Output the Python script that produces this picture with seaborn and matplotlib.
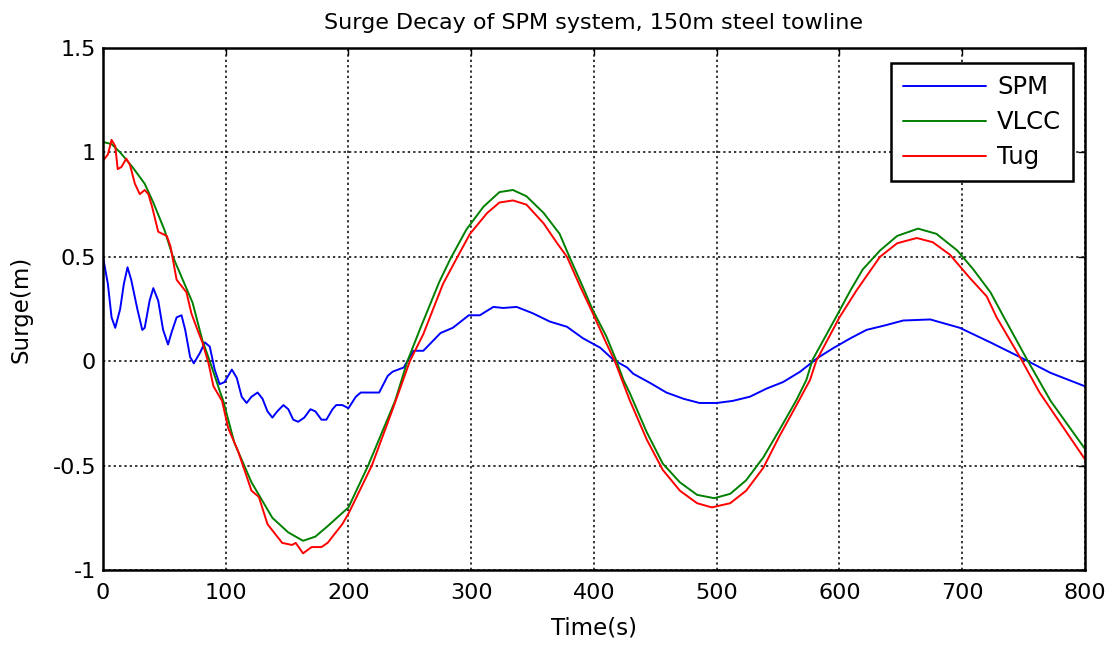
import pandas as pd
import numpy as np
import seaborn as sns
import matplotlib.pyplot as plt

# values (time in s, surge in m)
spm_t = [0, 4, 7, 10, 14, 17, 20, 23, 28, 32, 34, 38, 41, 45, 49, 53, 56, 60, 64, 67,
         71, 74, 79, 83, 87, 91, 95, 99, 105, 109, 113, 117, 121, 126, 130, 134, 138, 142,
         147, 151, 155, 159, 164, 169, 173, 178, 182, 187, 190, 195, 200, 206, 210, 225,
         232, 236, 245, 253, 261, 275, 285, 298, 307, 318, 326, 337, 350, 364, 378, 391,
         405, 416, 427, 432, 446, 459, 473, 486, 500, 513, 527, 541, 554, 568, 582, 595,
         609, 622, 636, 652, 674, 698, 723, 747, 772, 800]
spm_y = [0.50, 0.37, 0.21, 0.16, 0.25, 0.37, 0.45, 0.39, 0.25, 0.15, 0.16, 0.29, 0.35, 0.29,
         0.15, 0.08, 0.14, 0.21, 0.22, 0.15, 0.02, -0.01, 0.04, 0.09, 0.07, -0.04, -0.11,
         -0.10, -0.04, -0.08, -0.17, -0.20, -0.17, -0.15, -0.18, -0.24, -0.27, -0.24, -0.21,
         -0.23, -0.28, -0.29, -0.27, -0.23, -0.24, -0.28, -0.28, -0.23, -0.21, -0.21, -0.225,
         -0.17, -0.15, -0.15, -0.07, -0.05, -0.03, 0.05, 0.05, 0.135, 0.16, 0.22, 0.22, 0.26,
         0.255, 0.26, 0.23, 0.19, 0.165, 0.11, 0.065, 0.006, -0.03, -0.06, -0.105, -0.15,
         -0.18, -0.20, -0.20, -0.19, -0.17, -0.13, -0.10, -0.05, 0.015, 0.063, 0.11, 0.15,
         0.17, 0.195, 0.20, 0.16, 0.09, 0.02, -0.056, -0.12]

vlcc_t = [0, 7, 14, 24, 34, 41, 50, 57, 65, 73, 81, 87, 95, 98, 107, 121, 138, 151, 163,
          173, 183, 200, 216, 238, 248, 258, 274, 283, 296, 310, 323, 334, 345, 359, 372,
          380, 391, 399, 410, 418, 424, 429, 443, 456, 470, 484, 498, 511, 524, 538, 551,
          565, 573, 578, 598, 609, 619, 633, 647, 664, 679, 696, 709, 723, 734, 753, 772, 800]
vlcc_y = [1.05, 1.04, 1.00, 0.93, 0.85, 0.76, 0.63, 0.50, 0.39, 0.28, 0.10, 0.00, -0.14,
          -0.19, -0.39, -0.58, -0.75, -0.82, -0.86, -0.84, -0.79, -0.70, -0.50, -0.19, 0.00,
          0.15, 0.38, 0.49, 0.63, 0.74, 0.81, 0.82, 0.79, 0.71, 0.61, 0.50, 0.355, 0.245,
          0.12, 0.006, -0.09, -0.15, -0.34, -0.49, -0.58, -0.64, -0.656, -0.635, -0.57,
          -0.46, -0.33, -0.185, -0.09, 0.006, 0.22, 0.34, 0.44, 0.53, 0.60, 0.635, 0.61,
          0.53, 0.44, 0.33, 0.21, 0.006, -0.19, -0.42]

tug_t = [0, 4, 7, 10, 12, 15, 19, 22, 26, 30, 34, 37, 40, 45, 52, 55, 60, 68, 72, 77, 81,
         86, 90, 97, 102, 110, 121, 127, 134, 146, 154, 157, 163, 170, 178, 183, 195, 200,
         219, 236, 250, 261, 277, 287, 299, 313, 323, 334, 345, 359, 370, 378, 389, 399,
         410, 417, 429, 443, 456, 470, 484, 496, 511, 524, 538, 551, 565, 576, 581, 600,
         614, 633, 647, 663, 676, 690, 706, 720, 728, 747, 763, 800]
tug_y = [0.96, 0.99, 1.06, 1.03, 0.92, 0.93, 0.97, 0.94, 0.85, 0.80, 0.82, 0.80, 0.74, 0.62,
         0.60, 0.55, 0.39, 0.33, 0.23, 0.15, 0.09, -0.01, -0.12, -0.19, -0.32, -0.43, -0.62,
         -0.65, -0.78, -0.87, -0.88, -0.87, -0.92, -0.89, -0.89, -0.87, -0.78, -0.73, -0.50,
         -0.23, 0.0, 0.13, 0.37, 0.48, 0.61, 0.71, 0.76, 0.77, 0.75, 0.66, 0.565, 0.50,
         0.355, 0.23, 0.087, 0.0, -0.185, -0.375, -0.52, -0.62, -0.68, -0.70, -0.68, -0.62,
         -0.51, -0.36, -0.21, -0.09, 0.0, 0.21, 0.34, 0.50, 0.565, 0.59, 0.57, 0.51, 0.40,
         0.31, 0.21, 0.02, -0.15, -0.47]

names = ['SPM', 'VLCC', 'Tug']
colors = ['#0000ff', '#008000', '#ff0000']

# long form table for seaborn
df = pd.concat([
    pd.DataFrame({'Time': spm_t, 'Surge': spm_y, 'Body': 'SPM'}),
    pd.DataFrame({'Time': vlcc_t, 'Surge': vlcc_y, 'Body': 'VLCC'}),
    pd.DataFrame({'Time': tug_t, 'Surge': tug_y, 'Body': 'Tug'}),
], ignore_index=True)

sns.set_style('white')
plt.rcParams['font.family'] = ['DejaVu Sans']
plt.rcParams['text.color'] = 'black'
plt.rcParams['axes.labelcolor'] = 'black'
plt.rcParams['xtick.color'] = 'black'
plt.rcParams['ytick.color'] = 'black'

fig = plt.figure(figsize=(11.12, 6.46), dpi=100)
ax = fig.add_axes([0.0926, 0.1176, 0.8831, 0.8081])

sns.lineplot(data=df, x='Time', y='Surge', hue='Body', hue_order=names,
             palette=colors, estimator=None, sort=False, linewidth=1.4, ax=ax)

ax.set_xlim(0, 800)
ax.set_ylim(-1, 1.5)
ax.set_xticks(np.arange(0, 801, 100))
ax.set_yticks([-1, -0.5, 0, 0.5, 1, 1.5])
ax.set_yticklabels(['-1', '-0.5', '0', '0.5', '1', '1.5'])
ax.grid(True, color='black', linestyle=(0, (1.5, 2)), linewidth=1.1)
ax.tick_params(direction='in', top=True, right=True, length=5, width=1, labelsize=16)
ax.tick_params(axis='x', pad=9)
ax.tick_params(axis='y', pad=5)
for s in ax.spines.values():
    s.set_color('black')
    s.set_linewidth(1.8)

ax.set_title('Surge Decay of SPM system, 150m steel towline', fontsize=16, pad=14)
ax.set_xlabel('Time(s)', fontsize=16.5, labelpad=10)
ax.set_ylabel('Surge(m)', fontsize=16.5, labelpad=14)

leg = ax.legend(loc='upper right', bbox_to_anchor=(0.988, 0.971), borderaxespad=0,
                fontsize=17.5, handlelength=3.4, handletextpad=0.45, labelspacing=0.45,
                fancybox=False, framealpha=1, edgecolor='black', borderpad=0.5)
leg.get_frame().set_linewidth(1.8)

plt.savefig('out.png', dpi=100)
